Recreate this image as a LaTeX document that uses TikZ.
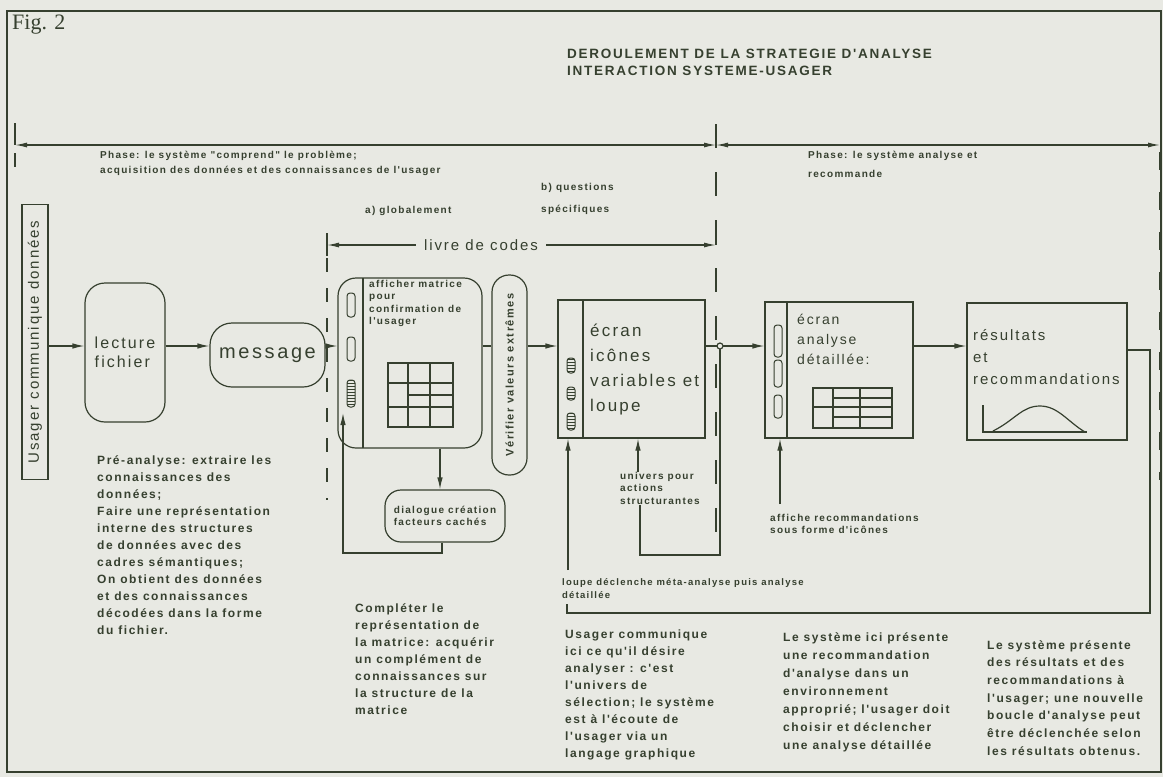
\documentclass[tikz,border=0pt]{standalone}
\usepackage{fontspec}
\setmainfont{Liberation Sans}
\newfontfamily\figfont{Liberation Serif}
\newfontfamily\spfont[LetterSpace=13]{Liberation Sans}
\usetikzlibrary{arrows.meta,positioning,patterns}
\definecolor{ink}{HTML}{36402F}
\definecolor{paper}{HTML}{E8E9E3}

\begin{document}
\begin{tikzpicture}[
  x=1pt,y=-1pt,
  roundbox/.style={draw=ink,line width=1.2pt,rounded corners=20pt,inner sep=0pt,text=ink},
  screen/.style={draw=ink,line width=1.2pt,inner sep=0pt,text=ink},
  icon/.style={draw=ink,line width=1pt,rounded corners=3pt,minimum width=8pt,inner sep=0pt},
  hatched/.style={icon,pattern=horizontal lines,pattern color=ink},
  boxtext/.style={font=\spfont\fontsize{17}{25}\selectfont,text=ink,align=left,inner sep=0pt},
  tag/.style={font=\spfont\bfseries\fontsize{10}{12.5}\selectfont,text=ink,align=left,inner sep=0pt},
  note/.style={font=\spfont\bfseries\fontsize{12}{17}\selectfont,text=ink,align=left,
               inner sep=0pt,anchor=north west},
  flow/.style={-{Latex[length=12pt,width=5.5pt]},line width=1.2pt,draw=ink},
  wire/.style={line width=1.2pt,draw=ink},
  guide/.style={line width=1.8pt,draw=ink,dash pattern=on 24pt off 24pt},
  span/.style={{Latex[length=12pt,width=5pt]}-{Latex[length=12pt,width=5pt]},
               line width=1.3pt,draw=ink}
]
\fill[paper] (0,0) rectangle (1163,777);
\draw[ink,line width=1.5pt] (7,11) rectangle (1161,772);

% 1. Header and phases.
\node[font=\figfont\fontsize{22}{24}\selectfont,text=ink,anchor=north west,inner sep=0pt]
  (fig) at (12,15) {Fig. 2};
\node[note,font=\spfont\bfseries\fontsize{13.5}{16.5}\selectfont]
  (title) at (567,49) {DEROULEMENT DE LA STRATEGIE D'ANALYSE\\INTERACTION SYSTEME-USAGER};
\coordinate (phL) at (15,145);
\coordinate (phM) at (716,145);
\coordinate (phR) at (1160,145);
\draw[span] (phL) -- (phM);
\draw[span] (phM) -- (phR);
\draw[wire] (15,123) -- (phL);
\draw[wire] (15,153) -- (15,167);
\node[tag,anchor=north west,font=\spfont\bfseries\fontsize{10}{15}\selectfont]
  (phase1) at (100,151) {Phase: le système "comprend" le problème;\\acquisition des données et des connaissances de l'usager};
\node[tag,anchor=north west,font=\spfont\bfseries\fontsize{10}{19}\selectfont]
  (phase2) at (808,151) {Phase: le système analyse et\\recommande};
\node[tag,anchor=north west] (glob) at (365,206) {a) globalement};
\node[tag,anchor=north west,font=\spfont\bfseries\fontsize{10}{22}\selectfont]
  (quest) at (541,183) {b) questions\\spécifiques};

% 2. Phase borders.
\draw[guide] (716,124) -- (716,535);
\draw[guide,dash pattern=on 14pt off 16pt] (327,258) -- (327,500);
\draw[guide,dash pattern=on 18pt off 22pt] (1160,152) -- (1160,480);
\coordinate (cbL) at (327,245);
\coordinate (cbR) at (716,245);
\draw[span] (cbL) -- (cbR);
\draw[wire] (327,233) -- (327,256);
\draw[wire] (cbR) -- (716,221);
\node[boxtext,fill=paper,inner xsep=8pt,inner ysep=2pt,font=\spfont\fontsize{15}{18}\selectfont]
  (codes) at (481,245) {livre de codes};

% 3. Reading the file.
\node[screen,rotate=90,minimum width=275pt,minimum height=26pt,
      font=\spfont\fontsize{15}{18}\selectfont] (usager) at (35,342) {Usager communique données};
\node[roundbox,minimum width=80pt,minimum height=139pt,align=left,
      font=\spfont\fontsize{16}{19}\selectfont] (lecture) at (125,352.5) {lecture\\fichier};
\node[roundbox,minimum width=115pt,minimum height=64pt,rounded corners=22pt,
      font=\spfont\fontsize{20}{24}\selectfont] (message) at (267.5,355) {message};

% 4. Code book matrix.
\node[roundbox,minimum width=144pt,minimum height=170pt,rounded corners=18pt]
  (matrice) at (410,363) {};
\draw[wire] (363,278) -- (363,448);
\node[icon,minimum height=24pt] (mi1) at (351,305) {};
\node[icon,minimum height=24pt] (mi2) at (351,349) {};
\node[hatched,minimum height=27pt] (mi3) at (351,393.5) {};
\node[tag,anchor=north west] (mtext) at (369,280) {afficher matrice\\pour\\confirmation de\\l'usager};
\draw[ink,line width=1.1pt] (388,363) rectangle (453,427);
\draw[ink,line width=1.1pt] (408,363) -- (408,427) (430,363) -- (430,427)
  (388,383) -- (453,383) (388,407) -- (453,407) (408,395) -- (453,395);
\node[roundbox,minimum width=120pt,minimum height=52pt,rounded corners=16pt,tag,align=left]
  (dialogue) at (445,516) {dialogue création\\facteurs cachés};
\node[roundbox,rotate=90,minimum width=200pt,minimum height=35pt,rounded corners=17pt,
      font=\spfont\bfseries\fontsize{11}{13}\selectfont] (verif) at (509.5,375) {Vérifier valeurs extrêmes};

% 5. Selection screen.
\node[screen,minimum width=147pt,minimum height=138pt] (ecran) at (631.5,369) {};
\draw[wire] (583,300) -- (583,438);
\node[hatched,minimum height=15pt] (ei1) at (571,365.5) {};
\node[hatched,minimum height=13pt] (ei2) at (571,393.5) {};
\node[hatched,minimum height=17pt] (ei3) at (571,421.5) {};
\node[boxtext,anchor=north west] (etext) at (590,324) {écran\\icônes\\variables et\\loupe};
\node[tag,anchor=north west] (univers) at (620,472) {univers pour\\actions\\structurantes};
\node[tag,anchor=north west,font=\spfont\bfseries\fontsize{9.5}{13}\selectfont]
  (loupe) at (562,578) {loupe déclenche méta-analyse puis analyse\\détaillée};

% 6. Detailed analysis screen.
\node[screen,minimum width=148pt,minimum height=136pt] (analyse) at (839,370) {};
\draw[wire] (787,302) -- (787,438);
\node[icon,minimum height=32pt] (ai1) at (778,341) {};
\node[icon,minimum height=27pt] (ai2) at (778,373.5) {};
\node[icon,minimum height=23pt] (ai3) at (778,406.5) {};
\node[boxtext,anchor=north west,font=\spfont\fontsize{14}{20}\selectfont]
  (atext) at (797,314) {écran\\analyse\\détaillée:};
\draw[ink,line width=1.1pt] (813,388) rectangle (892,428);
\draw[ink,line width=1.1pt] (833,388) -- (833,428) (860,388) -- (860,428)
  (813,407) -- (892,407) (833,398) -- (892,398) (833,417) -- (892,417);
\node[tag,anchor=north west] (affiche) at (770,514) {affiche recommandations\\sous forme d'icônes};

% 7. Results.
\node[screen,minimum width=160pt,minimum height=137pt] (resultats) at (1047,371.5) {};
\node[boxtext,anchor=north west,font=\spfont\fontsize{15}{22}\selectfont]
  (rtext) at (973,329) {résultats\\et\\recommandations};
\draw[wire] (983,405) -- (983,432) -- (1087,432);
\draw[wire] (993,431) .. controls (1015,420) and (1022,406) .. (1040,406)
  .. controls (1058,406) and (1068,422) .. (1085,432);

% 8. Flow between the steps.
\coordinate (row) at (0,346);
\coordinate (hop) at (720,346);
\draw[flow] (usager.south |- row) -- (lecture.west |- row);
\draw[flow] (lecture.east |- row) -- (message.west |- row);
\draw[flow] (message.east |- row) -- (matrice.west |- row);
\draw[wire] (matrice.east |- row) -- (verif.north |- row);
\draw[flow] (verif.south |- row) -- (ecran.west |- row);
\draw[flow] (ecran.east |- row) -- (analyse.west |- row);
\draw[flow] (analyse.east |- row) -- (resultats.west |- row);
\coordinate (dx) at (440,0);
\draw[flow] (matrice.south -| dx) -- (dialogue.north -| dx);
\coordinate (dl1) at (442,553);
\coordinate (dl2) at (343,553);
\coordinate (dl3) at (343,413);
\draw[flow] (dialogue.south -| dl1) -- (dl1) -- (dl2) -- (dl3);
\coordinate (ua) at (638,0);
\draw[flow] (univers.north -| ua) -- (ecran.south -| ua);
\coordinate (ul1) at (640,555);
\draw[wire] (univers.south -| ul1) -- (ul1) -- (ul1 -| hop) -- (hop);
\draw[wire,fill=paper] (hop) circle (3pt);
\coordinate (lp) at (568,570);
\draw[flow] (lp) -- (ecran.south -| lp);
\coordinate (fa) at (780,0);
\draw[flow,shorten <=10pt] (affiche.north -| fa) -- (analyse.south -| fa);
\coordinate (fbR) at (1150,350);
\coordinate (fbB) at (1150,613);
\coordinate (fbL) at (567,613);
\coordinate (fbE) at (567,604);
\draw[wire] (resultats.east |- fbR) -- (fbR) -- (fbB) -- (fbL) -- (fbE);

% 9. Explanations.
\node[note] (pre) at (97,455) {Pré-analyse: extraire les\\connaissances des\\données;\\Faire une représentation\\interne des structures\\de données avec des\\cadres sémantiques;\\On obtient des données\\et des connaissances\\décodées dans la forme\\du fichier.};
\node[note] (compl) at (355,603) {Compléter le\\représentation de\\la matrice: acquérir\\un complément de\\connaissances sur\\la structure de la\\matrice};
\node[note] (usertext) at (565,630) {Usager communique\\ici ce qu'il désire\\analyser : c'est\\l'univers de\\sélection; le système\\est à l'écoute de\\l'usager via un\\langage graphique};
\node[note,font=\spfont\bfseries\fontsize{12}{18}\selectfont] (systext) at (783,632) {Le système ici présente\\une recommandation\\d'analyse dans un\\environnement\\approprié; l'usager doit\\choisir et déclencher\\une analyse détaillée};
\node[note,font=\spfont\bfseries\fontsize{12}{17.7}\selectfont] (restext) at (987,640) {Le système présente\\des résultats et des\\recommandations à\\l'usager; une nouvelle\\boucle d'analyse peut\\être déclenchée selon\\les résultats obtenus.};

\end{tikzpicture}
\end{document}
